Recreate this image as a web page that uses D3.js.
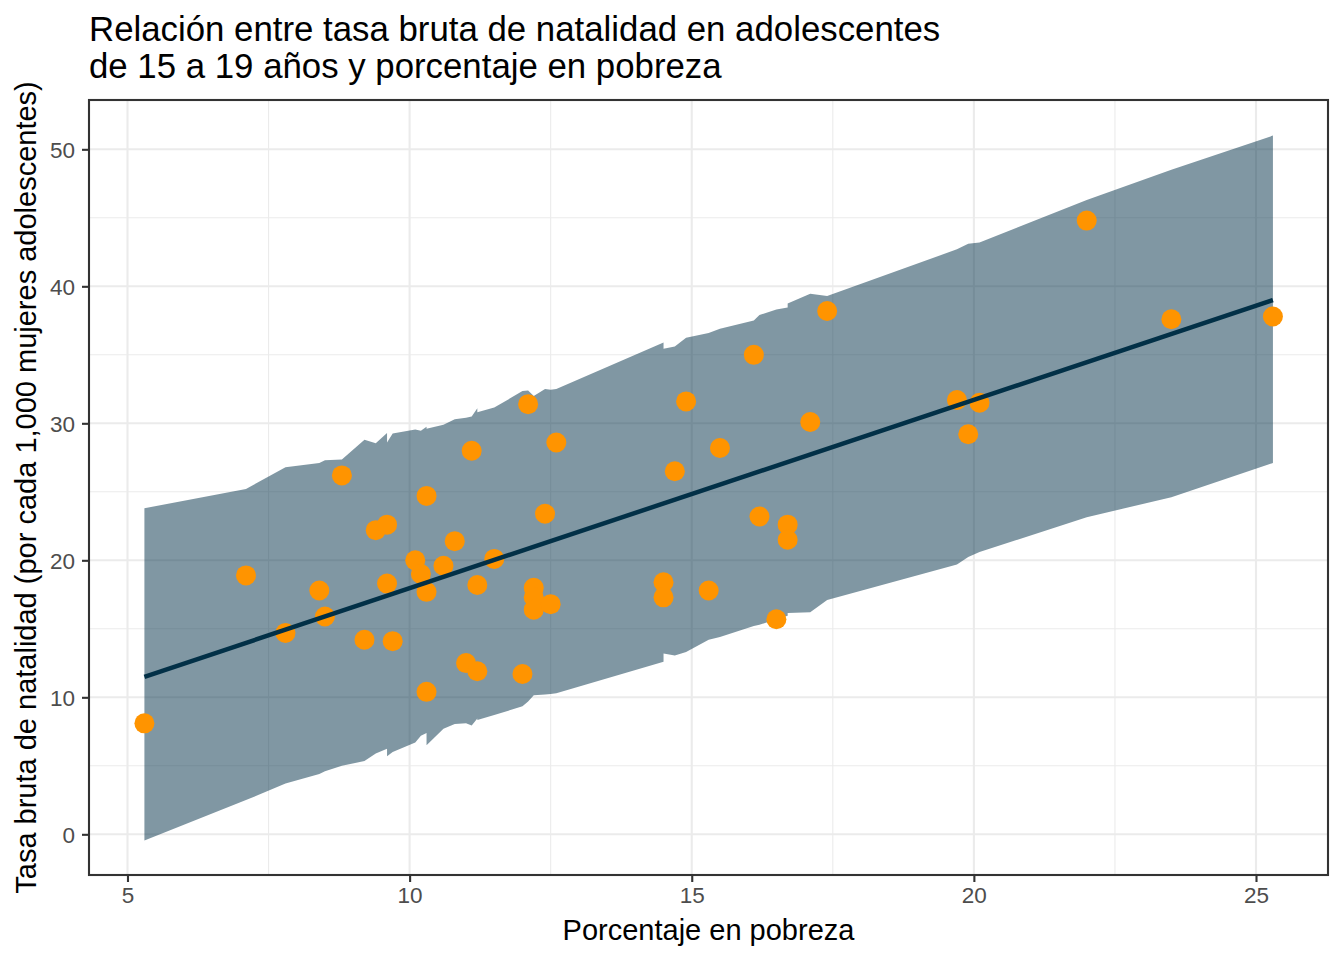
<!DOCTYPE html>
<html>
<head>
<meta charset="utf-8">
<script src="https://cdn.jsdelivr.net/npm/d3@7"></script>
<style>
  html, body { margin: 0; padding: 0; background: #ffffff; }
  svg { display: block; font-family: "Liberation Sans", Arial, Helvetica, sans-serif; }
</style>
</head>
<body>
<svg id="chart" width="1344" height="960"></svg>
<script>
// ---- data ----
const pobreza = [5.3, 7.1, 7.8, 8.4, 8.5, 8.8, 9.2, 9.4, 9.6, 9.6, 9.7, 10.1, 10.2, 10.3, 10.3, 10.3, 10.6, 10.8, 11.1, 11.0, 11.2, 11.2, 11.5, 12.0, 12.1, 12.2, 12.2, 12.2, 12.5, 12.4, 12.6, 14.5, 14.5, 14.7, 14.9, 15.3, 15.5, 16.1, 16.2, 16.5, 16.7, 16.7, 17.1, 17.4, 19.7, 19.9, 20.1, 22.0, 23.5, 25.3];
const natalidad = [8.1, 18.9, 14.7, 17.8, 15.9, 26.2, 14.2, 22.2, 22.6, 18.3, 14.1, 20.0, 19.0, 17.7, 24.7, 10.4, 19.6, 21.4, 28.0, 12.5, 11.9, 18.2, 20.1, 11.7, 31.4, 18.0, 17.3, 16.4, 16.8, 23.4, 28.6, 18.4, 17.3, 26.5, 31.6, 17.8, 28.2, 35.0, 23.2, 15.7, 22.6, 21.5, 30.1, 38.2, 31.7, 29.2, 31.5, 44.8, 37.6, 37.8];

// fitted line (end points)
const fitX = [5.3, 25.3];
const fitY = [11.5, 39.0];

// prediction band
const bandX = [5.3, 7.1, 7.8, 8.4, 8.5, 8.8, 9.2, 9.4, 9.6, 9.6, 9.7, 10.1, 10.2, 10.3, 10.3, 10.6, 10.8, 11.0, 11.1, 11.2, 11.2, 11.5, 12.0, 12.1, 12.2, 12.4, 12.5, 12.6, 14.5, 14.5, 14.7, 14.9, 15.3, 15.5, 16.1, 16.2, 16.5, 16.7, 16.7, 17.1, 17.4, 19.7, 19.9, 20.1, 22.0, 23.5, 25.3];
const bandHi = [23.8, 25.2, 26.8, 27.1, 27.3, 27.35, 28.8, 28.55, 29.3, 28.6, 29.25, 29.55, 29.45, 29.75, 29.6, 29.9, 30.3, 30.4, 30.5, 31.1, 30.8, 31.15, 32.35, 32.4, 32.0, 32.5, 32.45, 32.5, 35.9, 35.45, 35.6, 36.25, 36.6, 36.9, 37.5, 37.9, 38.3, 38.45, 38.75, 39.45, 39.3, 42.7, 43.1, 43.2, 46.3, 48.5, 51.0];
const bandLo = [-0.45, 2.5, 3.7, 4.4, 4.6, 5.0, 5.35, 5.9, 6.25, 5.7, 6.0, 6.7, 7.2, 7.4, 6.5, 7.7, 8.05, 8.1, 7.95, 8.45, 8.35, 8.7, 9.35, 9.7, 10.15, 10.2, 10.25, 10.3, 12.6, 13.2, 13.05, 13.3, 14.2, 14.4, 15.2, 15.3, 15.7, 15.95, 16.15, 16.2, 17.1, 19.7, 20.25, 20.6, 23.15, 24.6, 27.1];

const xMajor = [5, 10, 15, 20, 25];
const xMinor = [7.5, 12.5, 17.5, 22.5];
const yMajor = [0, 10, 20, 30, 40, 50];
const yMinor = [5, 15, 25, 35, 45];

const titleLines = ["Relación entre tasa bruta de natalidad en adolescentes", "de 15 a 19 años y porcentaje en pobreza"];
const xTitle = "Porcentaje en pobreza";
const yTitle = "Tasa bruta de natalidad (por cada 1,000 mujeres adolescentes)";

// ---- layout ----
const P = { left: 89, right: 1328, top: 100, bottom: 875 };
const svg = d3.select("#chart");

const x = d3.scaleLinear().domain([4.318, 26.276]).range([P.left, P.right]);
const y = d3.scaleLinear().domain([-2.97, 53.6]).range([P.bottom, P.top]);

const grid = svg.append("g");
grid.selectAll(".xmin").data(xMinor).join("line")
  .attr("x1", d => x(d)).attr("x2", d => x(d)).attr("y1", P.top).attr("y2", P.bottom)
  .attr("stroke", "#EBEBEB").attr("stroke-width", 1.1);
grid.selectAll(".ymin").data(yMinor).join("line")
  .attr("y1", d => y(d)).attr("y2", d => y(d)).attr("x1", P.left).attr("x2", P.right)
  .attr("stroke", "#EBEBEB").attr("stroke-width", 1.1);
grid.selectAll(".xmaj").data(xMajor).join("line")
  .attr("x1", d => x(d)).attr("x2", d => x(d)).attr("y1", P.top).attr("y2", P.bottom)
  .attr("stroke", "#EBEBEB").attr("stroke-width", 2.1);
grid.selectAll(".ymaj").data(yMajor).join("line")
  .attr("y1", d => y(d)).attr("y2", d => y(d)).attr("x1", P.left).attr("x2", P.right)
  .attr("stroke", "#EBEBEB").attr("stroke-width", 2.1);

// band
const band = bandX.map((v, i) => ({ x: v, lo: bandLo[i], hi: bandHi[i] }));
svg.append("path")
  .datum(band)
  .attr("d", d3.area().x(d => x(d.x)).y0(d => y(d.lo)).y1(d => y(d.hi)))
  .attr("fill", "#023047").attr("fill-opacity", 0.5);

// points
const pts = pobreza.map((v, i) => ({ x: v, y: natalidad[i] }));
svg.append("g").selectAll("circle").data(pts).join("circle")
  .attr("cx", d => x(d.x)).attr("cy", d => y(d.y)).attr("r", 10)
  .attr("fill", "#FF9400");

// fit line
svg.append("path")
  .datum(fitX.map((v, i) => ({ x: v, y: fitY[i] })))
  .attr("d", d3.line().x(d => x(d.x)).y(d => y(d.y)))
  .attr("fill", "none").attr("stroke", "#023047").attr("stroke-width", 4.5);

// panel border
svg.append("rect")
  .attr("x", P.left).attr("y", P.top).attr("width", P.right - P.left).attr("height", P.bottom - P.top)
  .attr("fill", "none").attr("stroke", "#333333").attr("stroke-width", 2.1);

// axes
const xAxis = svg.append("g").attr("transform", `translate(0,${P.bottom})`)
  .call(d3.axisBottom(x).tickValues(xMajor).tickSize(7).tickPadding(6).tickFormat(d3.format("d")));
const yAxis = svg.append("g").attr("transform", `translate(${P.left},0)`)
  .call(d3.axisLeft(y).tickValues(yMajor).tickSize(7).tickPadding(7).tickFormat(d3.format("d")));
[xAxis, yAxis].forEach(a => {
  a.select(".domain").remove();
  a.selectAll(".tick line").attr("stroke", "#333333").attr("stroke-width", 2.1);
  a.selectAll(".tick text").attr("fill", "#4D4D4D").attr("font-size", 22.5)
    .attr("font-family", '"Liberation Sans", Arial, Helvetica, sans-serif');
});
xAxis.selectAll(".tick text").attr("dy", null).attr("y", 28);
yAxis.selectAll(".tick text").attr("dy", "0.36em");

// titles
svg.append("text").attr("x", (P.left + P.right) / 2).attr("y", 940)
  .attr("text-anchor", "middle").attr("font-size", 29).attr("fill", "#000").text(xTitle);
svg.append("text").attr("transform", `translate(36,${(P.top + P.bottom) / 2}) rotate(-90)`)
  .attr("text-anchor", "middle").attr("font-size", 29).attr("fill", "#000").text(yTitle);
svg.append("g").selectAll("text").data(titleLines).join("text")
  .attr("x", P.left).attr("y", (d, i) => 41 + i * 37)
  .attr("font-size", 34.8).attr("fill", "#000").text(d => d);
</script>
</body>
</html>
